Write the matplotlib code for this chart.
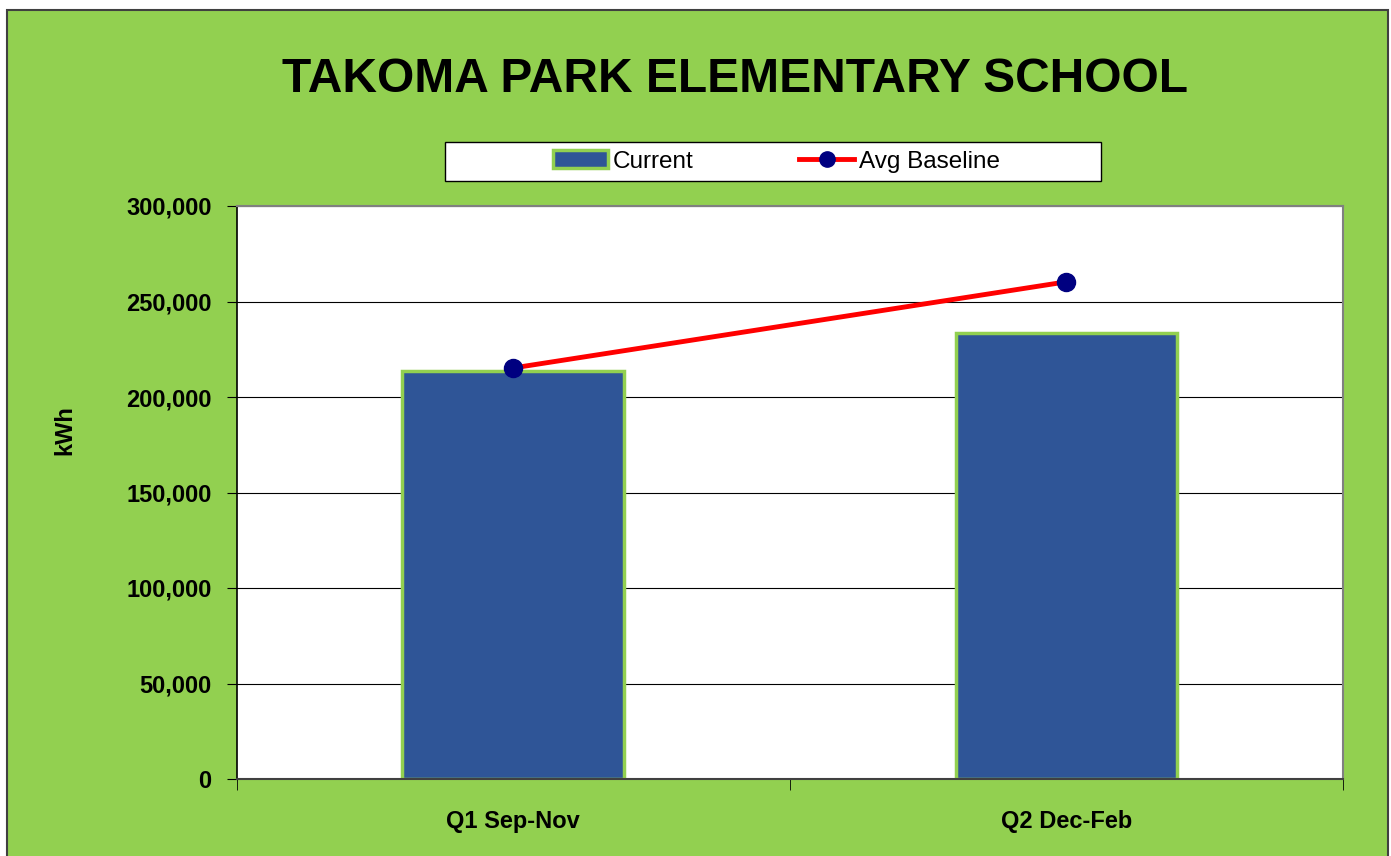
import matplotlib
matplotlib.use("Agg")
import matplotlib.pyplot as plt
from matplotlib.patches import Rectangle
from matplotlib.lines import Line2D
from matplotlib.ticker import FuncFormatter, FixedLocator

categories = ["Q1 Sep-Nov", "Q2 Dec-Feb"]
current = [213600, 233600]
avg_baseline = [215200, 260300]
y_ticks = [0, 50000, 100000, 150000, 200000, 250000, 300000]

GREEN = "#92D050"
BAR = "#2F5597"
RED = "#FF0000"
NAVY = "#000080"

plt.rcParams['font.family'] = ['Liberation Sans', 'DejaVu Sans']

W, H = 1391, 856
fig = plt.figure(figsize=(W/100, H/100), dpi=100)
fig.patch.set_facecolor("white")
# green chart area with border
fig.add_artist(Rectangle((7/W, -0.01), (1388-7)/W, 1 - 10/H + 0.01,
                         transform=fig.transFigure, facecolor=GREEN,
                         edgecolor="#404040", linewidth=1.5, zorder=0))

ax = fig.add_axes([236.5/W, 1-779/H, (1343-236.5)/W, (779-206)/H])
ax.set_facecolor("white")
x = list(range(len(categories)))
ax.bar(x, current, width=0.40, color=BAR, edgecolor=GREEN, linewidth=2.5, zorder=2)
ax.plot(x, avg_baseline, color=RED, linewidth=3.5, marker="o", markersize=13,
        markerfacecolor=NAVY, markeredgecolor=NAVY, zorder=3)

ax.set_xlim(-0.5, len(categories) - 0.5)
ax.set_ylim(0, 300000)
ax.yaxis.set_major_locator(FixedLocator(y_ticks))
ax.yaxis.set_major_formatter(FuncFormatter(lambda v, p: f"{int(v):,}"))
ax.grid(axis="y", color="#000000", linewidth=0.8, zorder=1)
ax.set_axisbelow(True)

ax.set_xticks(x)
ax.set_xticklabels(categories, fontsize=17, fontweight="bold")
ax.set_xticks([-0.5, 0.5, 1.5], minor=True)
ax.tick_params(axis="x", which="major", length=0, pad=22)
ax.tick_params(axis="x", which="minor", length=8, direction="out", color="black")
ax.tick_params(axis="y", length=7, direction="out", color="black", labelsize=17, pad=11)
for lbl in ax.get_yticklabels():
    lbl.set_fontweight("bold")

for s in ["top", "right"]:
    ax.spines[s].set_color("#808080")
    ax.spines[s].set_linewidth(1.5)
ax.spines["left"].set_color("black")
ax.spines["left"].set_linewidth(1.2)
ax.spines["bottom"].set_color("#404040")
ax.spines["bottom"].set_linewidth(1.5)

ax.set_ylabel("kWh", fontsize=17, fontweight="bold")
ax.yaxis.set_label_coords((76-236.5)/(1343-236.5), (779-430)/573)

fig.text(734.5/W, 1-79/H, "TAKOMA PARK ELEMENTARY SCHOOL", ha="center", va="center",
         fontsize=34.5, fontweight="bold", color="black")

# legend frame
fig.add_artist(Rectangle((445/W, 1-181/H), (1101-445)/W, (181-142)/H,
                         transform=fig.transFigure, facecolor="white",
                         edgecolor="black", linewidth=1.0, zorder=1))
handles = [Rectangle((0, 0), 1, 1, facecolor=BAR, edgecolor=GREEN, linewidth=2.5),
           Line2D([0], [0], color=RED, linewidth=3.5, marker="o", markersize=11,
                  markerfacecolor=NAVY, markeredgecolor=NAVY)]
leg = fig.legend(handles, ["Current", "Avg Baseline"], loc="center",
                 bbox_to_anchor=(776.5/W, 1-161.5/H), ncol=2, fontsize=17.5,
                 frameon=False, columnspacing=4.36, handlelength=2.25, handletextpad=0.2)
leg.set_zorder(2)

fig.savefig("out.png", dpi=100, facecolor=fig.get_facecolor())
